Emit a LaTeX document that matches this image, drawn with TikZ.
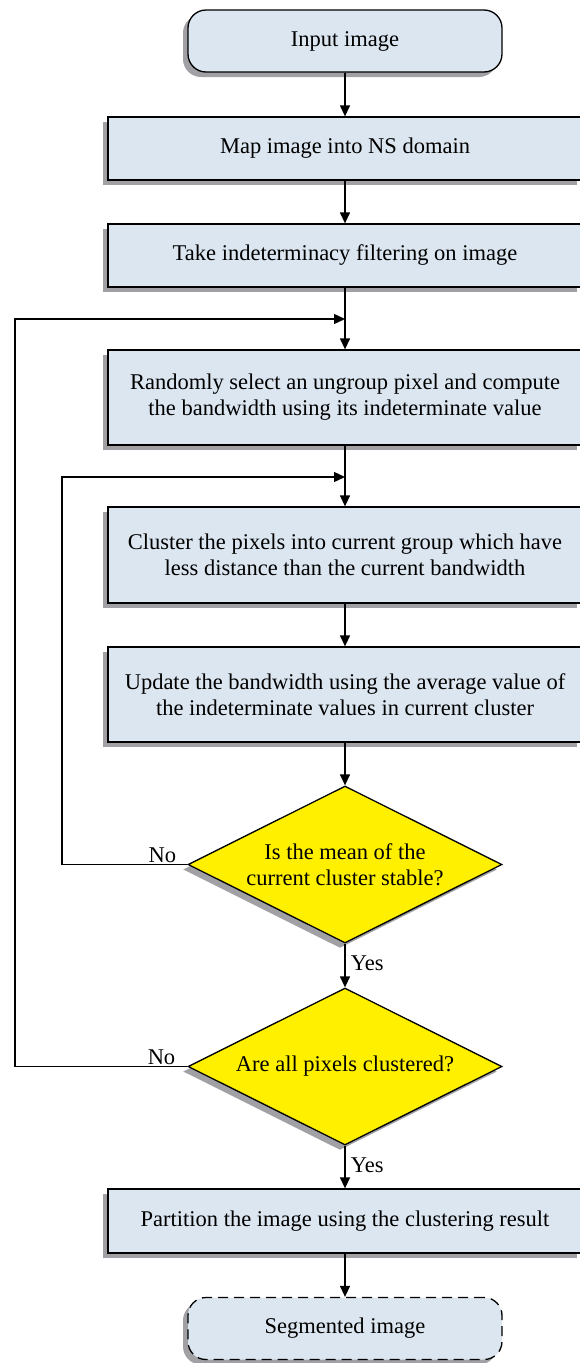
\documentclass[tikz,border=0pt]{standalone}
\usepackage{fontspec}
\setmainfont{Liberation Serif}
\usetikzlibrary{shapes.geometric,shadows,arrows.meta}
\definecolor{boxblue}{RGB}{220,230,240}
\definecolor{dyellow}{RGB}{255,240,0}
\definecolor{shgray}{RGB}{160,160,165}
\tikzset{
  shad/.style={drop shadow={shadow xshift=-5pt,shadow yshift=-5pt,fill=shgray,opacity=1}},
  base/.style={draw=black,line width=1.3pt,font=\fontsize{22.5}{26}\selectfont,align=center,inner sep=0pt},
  term/.style={base,shad,fill=boxblue,rounded corners=18pt,minimum width=314pt,minimum height=62pt},
  proc/.style={base,shad,fill=boxblue,minimum width=474pt},
  dec/.style={base,shad,fill=dyellow,diamond,minimum width=314pt,minimum height=157pt},
  dectext/.style={font=\fontsize{22.5}{26}\selectfont,align=center,inner sep=0pt},
  arr/.style={line width=1.3pt,-{Triangle[length=11pt,width=10pt]}},
  lab/.style={font=\fontsize{22.5}{24}\selectfont}
}
\begin{document}
\begin{tikzpicture}[x=1pt,y=-1pt]
\useasboundingbox (0,0) rectangle (580,1363);
\node[term] (in) at (345,41) {Input image};
\node[proc,minimum height=63pt] (map) at (345,148.5) {Map image into NS domain};
\node[proc,minimum height=63pt] (take) at (345,255.5) {Take indeterminacy filtering on image};
\node[proc,minimum height=95pt] (rand) at (345,397.5) {Randomly select an ungroup pixel and compute\\the bandwidth using its indeterminate value};
\node[proc,minimum height=96pt] (clus) at (345,555) {Cluster the pixels into current group which have\\less distance than the current bandwidth};
\node[proc,minimum height=95pt] (upd) at (345,694.5) {Update the bandwidth using the average value of\\the indeterminate values in current cluster};
\node[dec] (d1) at (345,864.5) {};
\node[dectext] (t1) at (d1.center) {Is the mean of the\\current cluster stable?};
\node[dec] (d2) at (345,1066.5) {};
\node[dectext] (t2) at (d2.center) {Are all pixels clustered?};
\node[proc,minimum height=64pt] (part) at (345,1221) {Partition the image using the clustering result};
\node[term,dashed,dash pattern=on 10pt off 6pt] (seg) at (345,1328.5) {Segmented image};
\coordinate (j1) at (345,319);
\coordinate (j2) at (345,477);
\draw[arr] (in) -- (map);
\draw[arr] (map) -- (take);
\draw[arr] (take) -- (rand);
\draw[arr] (rand) -- (clus);
\draw[arr] (clus) -- (upd);
\draw[arr] (upd) -- (d1);
\draw[arr] (d1) -- node[lab,right,pos=0.45,xshift=2pt]{Yes} (d2);
\draw[arr] (d2) -- node[lab,right,pos=0.45,xshift=2pt]{Yes} (part);
\draw[arr] (part) -- (seg);
\draw[arr] (d1.west) -- node[lab,above,pos=0.2,yshift=-2pt]{No} (62,864.5) |- (j2);
\draw[arr] (d2.west) -- node[lab,above,pos=0.15,yshift=-2pt]{No} (15,1066.5) |- (j1);
\end{tikzpicture}
\end{document}
